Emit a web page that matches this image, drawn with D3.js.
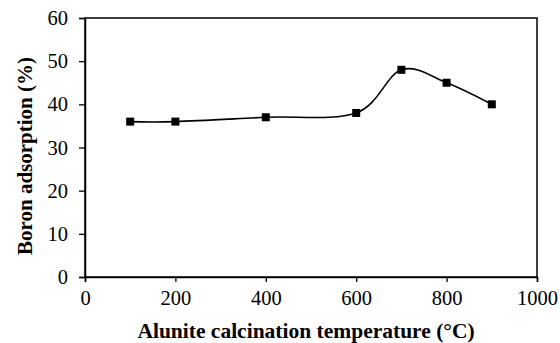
<!DOCTYPE html>
<html>
<head>
<meta charset="utf-8">
<script src="https://cdn.jsdelivr.net/npm/d3@7"></script>
<style>
  html, body { margin: 0; padding: 0; background: #fff; }
  svg { display: block; }
  text { font-family: "Liberation Serif", "Times New Roman", serif; fill: #000; }
</style>
</head>
<body>
<svg id="chart" width="560" height="343"></svg>
<script>
// Calcination temperature (°C) and boron adsorption (%)
const temperatures = [100, 200, 400, 600, 700, 800, 900];
const adsorption = [36, 36, 37, 38, 48, 45, 40];
const xTicks = [0, 200, 400, 600, 800, 1000];
const yTicks = [0, 10, 20, 30, 40, 50, 60];
const xTitle = "Alunite calcination temperature (°C)";
const yTitle = "Boron adsorption (%)";

const svg = d3.select("#chart");
const plotLeft = 85, plotRight = 537, plotTop = 18, plotBottom = 277;
const tickFont = 20.5;

const x = d3.scaleLinear().domain([0, 1000]).range([plotLeft, plotRight]);
const y = d3.scaleLinear().domain([0, 60]).range([plotBottom, plotTop]);

// Plot frame
svg.append("rect")
  .attr("x", plotLeft).attr("y", plotTop)
  .attr("width", plotRight - plotLeft).attr("height", plotBottom - plotTop)
  .attr("fill", "none").attr("stroke", "#000").attr("stroke-width", 1.5);

// X axis
const xAxis = svg.append("g")
  .attr("transform", `translate(0,${plotBottom})`)
  .call(d3.axisBottom(x).tickValues(xTicks).tickFormat(d3.format("d"))
    .tickSize(5).tickPadding(8));
xAxis.select(".domain").attr("stroke-width", 1.5);
xAxis.selectAll(".tick line").attr("stroke-width", 1.3);
xAxis.selectAll(".tick text")
  .attr("font-size", tickFont).attr("font-family", "Liberation Serif").attr("fill", "#000");

// Y axis
const yAxis = svg.append("g")
  .attr("transform", `translate(${plotLeft},0)`)
  .call(d3.axisLeft(y).tickValues(yTicks).tickSize(6).tickPadding(11));
yAxis.select(".domain").attr("stroke-width", 1.5);
yAxis.selectAll(".tick line").attr("stroke-width", 1.3);
yAxis.selectAll(".tick text")
  .attr("font-size", tickFont).attr("font-family", "Liberation Serif").attr("fill", "#000");

// Smoothed series line
const line = d3.line()
  .x((d, i) => x(temperatures[i]))
  .y(d => y(d))
  .curve(d3.curveCatmullRom.alpha(0));
svg.append("path")
  .datum(adsorption)
  .attr("d", line)
  .attr("fill", "none").attr("stroke", "#000").attr("stroke-width", 1.6);

// Square markers
const ms = 8;
svg.selectAll("rect.pt")
  .data(adsorption)
  .join("rect")
  .attr("class", "pt")
  .attr("x", (d, i) => x(temperatures[i]) - ms / 2)
  .attr("y", d => y(d) - ms / 2)
  .attr("width", ms).attr("height", ms)
  .attr("fill", "#000");

// Axis titles
svg.append("text")
  .attr("x", 306).attr("y", 338)
  .attr("text-anchor", "middle")
  .attr("font-size", 21.5).attr("font-weight", "bold")
  .text(xTitle);

svg.append("text")
  .attr("transform", "translate(32,156) rotate(-90)")
  .attr("text-anchor", "middle")
  .attr("font-size", 21).attr("font-weight", "bold")
  .text(yTitle);
</script>
</body>
</html>
